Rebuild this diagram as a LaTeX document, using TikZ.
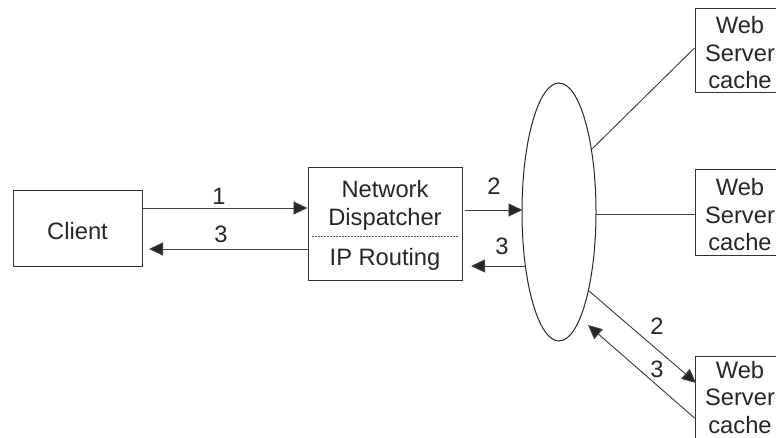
\documentclass[tikz,border=0pt]{standalone}
\usepackage{fontspec}
\setmainfont{Liberation Sans}
\usetikzlibrary{arrows.meta,shapes.geometric}
\tikzset{
  box/.style={draw=black!80,line width=1pt,inner sep=0pt},
  lab/.style={inner sep=0pt,align=center,font=\fontsize{23.7pt}{27.5pt}\selectfont,text=black!85},
  conn/.style={draw=black!75,line width=0.95pt},
  arr/.style={conn,-{Triangle[length=14pt,width=13pt,fill=black!85]}},
  sep/.style={draw=black!65,line width=0.9pt,dash pattern=on 2pt off 1pt}
}
\begin{document}
\begin{tikzpicture}[x=1pt,y=-1pt]
\useasboundingbox (0,0) rectangle (776,438);
\node[box,minimum width=129pt,minimum height=76pt] (client) at (77.5,229) {};
\node[lab] (clientt) at (77.5,231.5) {Client};
\node[box,minimum width=154pt,minimum height=113pt] (nd) at (385,224.5) {};
\node[lab] (ndt) at (385,205.5) {Network\\Dispatcher};
\node[lab] (ip) at (385,259) {IP Routing};
\node[draw=black!85,line width=1pt,ellipse,minimum width=74pt,minimum height=258pt,inner sep=0pt] (hub) at (559,212) {};
\begin{scope}
\clip (0,0) rectangle (776,438);
\node[box,minimum width=90pt,minimum height=84pt] (w1) at (740,51) {};
\node[box,minimum width=90pt,minimum height=86pt] (w2) at (740,213) {};
\node[box,minimum width=90pt,minimum height=90pt] (w3) at (740,401) {};
\end{scope}
\node[lab] (w1t) at (740,53) {Web\\Server\\cache};
\node[lab] (w2t) at (740,215) {Web\\Server\\cache};
\node[lab] (w3t) at (740,397.5) {Web\\Server\\cache};
% connector ends
\coordinate (c1) at (client.east |- 0,208);
\coordinate (n1) at (nd.west |- 0,208);
\coordinate (n3) at (nd.west |- 0,249);
\coordinate (c3) at (149,249);
\coordinate (n2) at (465,210);
\coordinate (h2) at (522.5,210);
\coordinate (h3) at (526,266);
\coordinate (n4) at (471,266);
\coordinate (d1) at (312,236);
\coordinate (d2) at (458,236);
\coordinate (h4) at (592,149);
\coordinate (w1a) at (w1.west |- 0,48);
\coordinate (h5) at (596,214);
\coordinate (w2a) at (w2.west |- 0,214);
\coordinate (h6) at (589,291);
\coordinate (w3a) at (696,383);
\coordinate (w3b) at (w3.west |- 0,418);
\coordinate (h7) at (588,325);
\draw[arr] (c1) -- (n1);
\draw[arr] (n3) -- (c3);
\draw[arr] (n2) -- (h2);
\draw[arr] (h3) -- (n4);
\draw[sep] (d1) -- (d2);
\draw[conn] (h4) -- (w1a);
\draw[conn] (h5) -- (w2a);
\draw[arr] (h6) -- (w3a);
\draw[arr] (w3b) -- (h7);
\node[lab] (l1) at (219,196.5) {1};
\node[lab] (l2) at (221,234.5) {3};
\node[lab] (l3) at (494,186) {2};
\node[lab] (l4) at (502,246) {3};
\node[lab] (l5) at (657,326) {2};
\node[lab] (l6) at (657,369) {3};
\end{tikzpicture}
\end{document}
